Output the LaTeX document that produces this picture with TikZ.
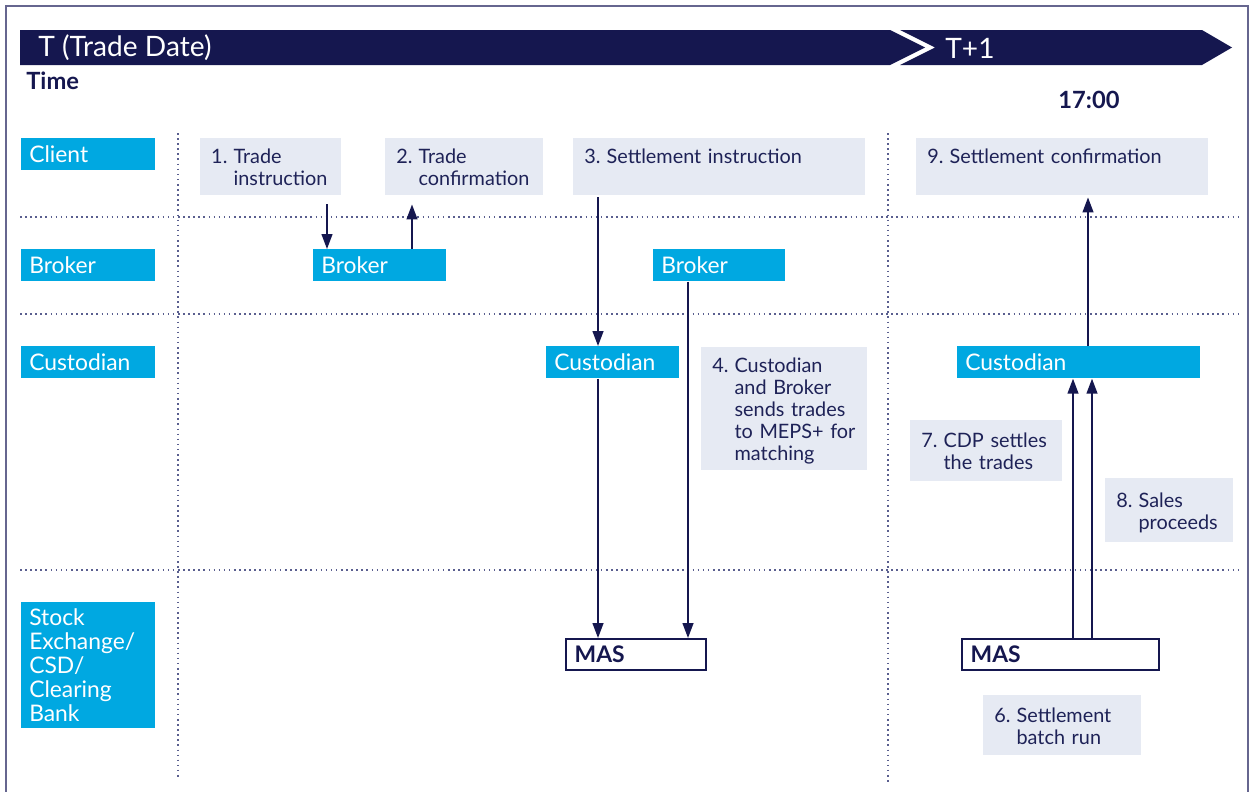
\documentclass[tikz,border=0pt]{standalone}
\usepackage{fontspec}
\setmainfont{Lato}
\usetikzlibrary{arrows.meta, calc, positioning}
\definecolor{navy}{HTML}{15174F}
\definecolor{inktext}{HTML}{1E2257}
\definecolor{laneblue}{HTML}{00A8E1}
\definecolor{notegray}{HTML}{E6EAF3}
\definecolor{framec}{HTML}{66668F}
\definecolor{dotc}{HTML}{5A5F8F}
\newcommand{\numitem}[2]{\raisebox{-2pt}[\height][\depth]{\begin{tabular}[t]{@{}l@{\hspace{3.5pt}}l@{}}#1&#2\end{tabular}}}

\begin{document}
\begin{tikzpicture}[x=0.02cm, y=-0.02cm,
  wh/.style 2 args={minimum height=#2*0.02cm, text width=#1*0.02cm-2*\pgfkeysvalueof{/pgf/inner xsep}},
  note/.style={fill=notegray, text=inktext, anchor=north west, align=left, inner xsep=6.2pt, inner ysep=0pt,
    font=\fontsize{11.3}{12.5}\selectfont},
  lane/.style={fill=laneblue, text=white, anchor=north west, align=left, inner xsep=4.5pt, inner ysep=0pt,
    font=\fontsize{13}{13.6}\selectfont},
  mas/.style={fill=white, draw=navy, line width=1pt, text=navy, anchor=north west, align=left, inner xsep=5pt, inner ysep=0pt,
    font=\fontsize{13}{13.6}\selectfont\bfseries},
  flow/.style={draw=navy, line width=0.85pt, -{Triangle[length=8.5pt,width=6.2pt]}},
  gridline/.style={dotted, draw=dotc, line width=0.9pt},
  banner/.style={fill=navy}]
\useasboundingbox (0,0) rectangle (1250,791);
\draw[framec, line width=1.2pt] (6,795) -- (6,6) -- (1248,6) -- (1248,795);

% time bar
\fill[banner] (20,30) -- (890,30) -- (925,47.5) -- (890,65) -- (20,65) -- cycle;
\fill[banner] (900,30) -- (1202,30) -- (1232,47.5) -- (1202,65) -- (900,65) -- (935,47.5) -- cycle;
\node[anchor=west, text=white, inner sep=0pt, font=\fontsize{16}{18}\selectfont] (tday) at (38,48) {T (Trade Date)};
\node[anchor=west, text=white, inner sep=0pt, font=\fontsize{16}{18}\selectfont] (tone) at (945,48) {T+1};
\node[anchor=west, text=navy, inner sep=0pt, font=\fontsize{13.5}{15}\selectfont\bfseries] (time) at (26,81) {Time};
\node[text=navy, inner sep=0pt, font=\fontsize{13.5}{15}\selectfont\bfseries] (cutoff) at (1089,100) {17:00};

% swim lanes
\draw[gridline] (20,217) -- (1240,217);
\draw[gridline] (20,314) -- (1240,314);
\draw[gridline] (20,570) -- (1240,570);
\draw[gridline] (178,133) -- (178,778);
\draw[gridline] (888,133) -- (888,782);

\node[lane, wh={134}{32}] (client) at (21,138) {Client};
\node[lane, wh={134}{32}] (broker) at (21,249) {Broker};
\node[lane, wh={134}{32}] (custodian) at (21,346) {Custodian};
\node[lane, wh={134}{126}] (exchange) at (21,602) {Stock\\Exchange/\\CSD/\\Clearing\\Bank};

% parties
\node[lane, wh={133}{32}] (brk1) at (313,249) {Broker};
\node[lane, wh={132}{32}] (brk2) at (653,249) {Broker};
\node[lane, wh={133}{32}] (cus1) at (546,346) {Custodian};
\node[lane, wh={243}{32}] (cus2) at (957,346) {Custodian};
\node[mas, wh={140}{31}] (mas1) at (565,638) {MAS};
\node[mas, wh={197}{31}] (mas2) at (961,638) {MAS};

% steps
\node[note, wh={141}{57}] (tr1) at (200,138) {\numitem{1.}{Trade\\&instruction}};
\node[note, wh={158}{57}] (tc2) at (385,138) {\numitem{2.}{Trade\\&confirmation}};
\node[note, wh={292}{57}] (si3) at (573,138) {\numitem{3.}{Settlement instruction\\&}};
\node[note, wh={292}{57}] (sc9) at (916,138) {\numitem{9.}{Settlement confirmation\\&}};
\node[note, wh={166}{123}] (mt4) at (701,347) {\numitem{4.}{Custodian\\&and Broker\\&sends trades\\&to MEPS+ for\\&matching}};
\node[note, wh={152}{61}] (cdp7) at (910,420) {\numitem{7.}{CDP settles\\&the trades}};
\node[note, wh={128}{64}] (sp8) at (1105,478) {\numitem{8.}{Sales\\&proceeds}};
\node[note, wh={158}{60}] (br6) at (983,695) {\numitem{6.}{Settlement\\&batch run}};

% flows
\coordinate (a1) at ($(brk1.north west)+(14,0)$);
\coordinate (a2) at ($(brk1.north west)+(99,0)$);
\coordinate (a3) at ($(cus1.north west)+(52,0)$);
\coordinate (a5) at ($(brk2.north west)+(35,0)$);
\coordinate (a6) at ($(cus2.north west)+(131,0)$);
\coordinate (a7) at ($(mas2.north west)+(112,0)$);
\coordinate (a8) at ($(mas2.north west)+(131,0)$);
\draw[flow] ([yshift=-5pt]a1 |- tr1.south) -- (a1);
\draw[flow] (a2) -- ([yshift=-5pt]a2 |- tc2.south);
\draw[flow] ([yshift=-1pt]a3 |- si3.south) -- (a3);
\draw[flow] (a3 |- cus1.south) -- (a3 |- mas1.north);
\draw[flow] (a5 |- brk2.south) -- (a5 |- mas1.north);
\draw[flow] (a6) -- ([yshift=-1pt]a6 |- sc9.south);
\draw[flow] (a7) -- (a7 |- cus2.south);
\draw[flow] (a8) -- (a8 |- cus2.south);
\end{tikzpicture}
\end{document}
